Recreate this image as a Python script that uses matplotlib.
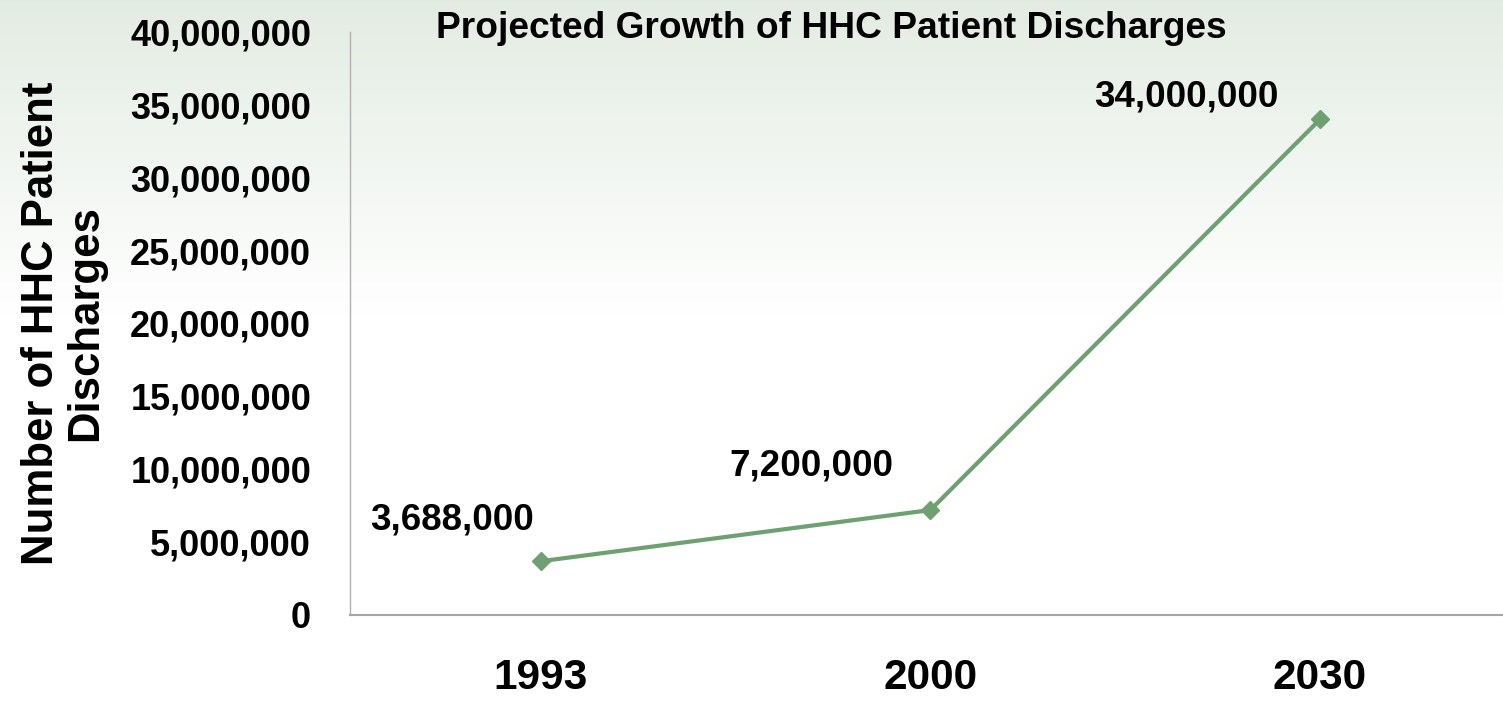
import matplotlib.pyplot as plt
import numpy as np
from matplotlib.ticker import FuncFormatter

years = ["1993", "2000", "2030"]
discharges = [3688000, 7200000, 34000000]
value_labels = ["3,688,000", "7,200,000", "34,000,000"]
y_ticks = [0, 5000000, 10000000, 15000000, 20000000, 25000000,
           30000000, 35000000, 40000000]

plt.rcParams['font.family'] = ['Liberation Sans', 'DejaVu Sans']
plt.rcParams['font.weight'] = 'bold'

fig = plt.figure(figsize=(15.03, 7.01), dpi=100)

# soft green-to-white background
bg = fig.add_axes([0, 0, 1, 1], zorder=-10)
grad = np.linspace(0, 1, 256).reshape(-1, 1)
grad = np.clip(grad / 0.45, 0, 1)
top = np.array([0.89, 0.925, 0.89])
img = top[None, None, :] * (1 - grad[:, :, None]) + np.ones(3)[None, None, :] * grad[:, :, None]
bg.imshow(img, aspect='auto', extent=[0, 1, 0, 1], origin='upper')
bg.set_axis_off()

ax = fig.add_axes([0.2329, 0.1227, 0.7671, 0.8317])
ax.patch.set_alpha(0)

x = np.arange(len(years))
green = '#6fa072'
ax.plot(x, discharges, color=green, lw=3, marker='D', ms=9,
        markerfacecolor=green, markeredgecolor=green, solid_joinstyle='miter')

offsets = [(-5, 30), (-27, 32), (-30, 16)]
for xi, yi, lab, off in zip(x, discharges, value_labels, offsets):
    ax.annotate(lab, (xi, yi), xytext=off, textcoords='offset points',
                ha='right', va='center', fontsize=26.5, fontweight='bold')

ax.set_xlim(-0.49, 2.47)
ax.set_ylim(0, 40000000)
ax.set_xticks(x)
ax.set_xticklabels(years, fontsize=30.5, fontweight='bold')
ax.set_yticks(y_ticks)
ax.yaxis.set_major_formatter(FuncFormatter(lambda v, p: '{:,.0f}'.format(v)))
for t in ax.get_yticklabels():
    t.set_fontsize(26)
    t.set_fontweight('bold')
ax.tick_params(axis='both', length=0)
ax.tick_params(axis='x', pad=31)
ax.tick_params(axis='y', pad=28)

for s in ['top', 'right']:
    ax.spines[s].set_visible(False)
ax.spines['left'].set_color('#b0b0b0')
ax.spines['left'].set_linewidth(1.0)
ax.spines['bottom'].set_color('#a6a6a6')
ax.spines['bottom'].set_linewidth(1.5)

ax.set_ylabel('Number of HHC Patient\nDischarges', fontsize=31.5,
              fontweight='bold', labelpad=17, linespacing=1.12)

fig.text(0.553, 0.960, 'Projected Growth of HHC Patient Discharges',
         ha='center', va='center', fontsize=26.7, fontweight='bold')

fig.savefig('out.png', dpi=100)
